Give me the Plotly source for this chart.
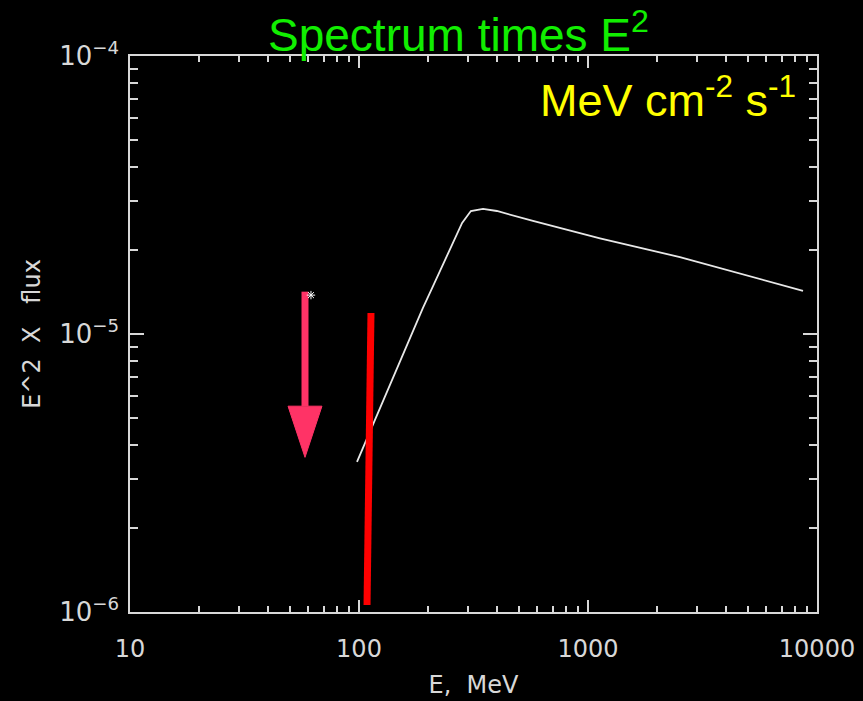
import numpy as np
import plotly.graph_objects as go

# ---- data ----
energy_mev = [98, 148, 190, 210, 250, 282, 308, 348, 400, 575, 1128, 2521, 8689]
e2_flux = [3.47e-6, 7.74e-6, 1.24e-5, 1.48e-5, 2.04e-5, 2.51e-5, 2.77e-5, 2.82e-5,
           2.77e-5, 2.55e-5, 2.21e-5, 1.89e-5, 1.43e-5]

red_bar_E = [112.8, 108.4]
red_bar_F = [1.19e-5, 1.06e-6]

upper_limit_E = [61.7]
upper_limit_F = [1.38e-5]

arrow_E = 58.1
arrow_top = 1.42e-5
arrow_head_base = 5.5e-6
arrow_tip = 3.6e-6
arrow_half_width_dec = 0.074

x_tickvals = [10, 100, 1000, 10000]
x_ticktext = ["10", "100", "1000", "10000"]
y_tickvals = [1e-6, 1e-5, 1e-4]
y_ticktext = ["10<sup>−6</sup>", "10<sup>−5</sup>", "10<sup>−4</sup>"]
x_minor = [m * 10 ** d for d in (1, 2, 3) for m in range(2, 10)]
y_minor = [m * 10.0 ** d for d in (-6, -5) for m in range(2, 10)]

axis_col = "#d8d8d8"
font_fam = "DejaVu Sans"

fig = go.Figure()

fig.add_trace(go.Scatter(x=energy_mev, y=e2_flux, mode="lines",
                         line=dict(color="#e8e8e8", width=1.8), showlegend=False))

fig.add_trace(go.Scatter(x=red_bar_E, y=red_bar_F, mode="lines",
                         line=dict(color="#ff0000", width=7), showlegend=False))

# arrow shaft
fig.add_trace(go.Scatter(x=[arrow_E, arrow_E], y=[arrow_top, arrow_head_base], mode="lines",
                         line=dict(color="#ff3366", width=7), showlegend=False))
# arrow head
lx = 10 ** (np.log10(arrow_E) - arrow_half_width_dec)
rx = 10 ** (np.log10(arrow_E) + arrow_half_width_dec)
fig.add_trace(go.Scatter(x=[lx, rx, arrow_E, lx], y=[arrow_head_base, arrow_head_base, arrow_tip, arrow_head_base],
                         mode="lines", fill="toself", fillcolor="#ff3366",
                         line=dict(color="#ff3366", width=1), showlegend=False))

fig.add_trace(go.Scatter(x=upper_limit_E, y=upper_limit_F, mode="markers",
                         marker=dict(symbol="asterisk-open", size=7, color="#ffffff",
                                     line=dict(color="#ffffff", width=1)),
                         showlegend=False))

fig.update_layout(
    width=863, height=701,
    paper_bgcolor="#000000", plot_bgcolor="#000000",
    margin=dict(l=130, r=46, t=56, b=89, autoexpand=False),
    font=dict(family=font_fam, color=axis_col),
    xaxis=dict(type="log", range=[1, 4], showgrid=False, zeroline=False, automargin=False,
               showline=True, linecolor=axis_col, linewidth=1.5, mirror="allticks",
               ticks="inside", ticklen=12, tickwidth=1.5, tickcolor=axis_col,
               tickvals=x_tickvals, ticktext=x_ticktext, ticklabelstandoff=14,
               tickfont=dict(size=24, color=axis_col, family=font_fam),
               minor=dict(tickvals=x_minor, ticks="inside", ticklen=6, tickwidth=1.5,
                          tickcolor=axis_col, showgrid=False),
               title=dict(text="E,  MeV", font=dict(size=24, color=axis_col, family=font_fam),
                          standoff=15)),
    yaxis=dict(type="log", range=[-6, -4], showgrid=False, zeroline=False, automargin=False,
               showline=True, linecolor=axis_col, linewidth=1.5, mirror="allticks",
               ticks="inside", ticklen=14, tickwidth=1.5, tickcolor=axis_col,
               tickvals=y_tickvals, ticktext=y_ticktext, ticklabelstandoff=4,
               tickfont=dict(size=26, color=axis_col, family=font_fam),
               minor=dict(tickvals=y_minor, ticks="inside", ticklen=8, tickwidth=1.5,
                          tickcolor=axis_col, showgrid=False),
               title=dict(text="E^2  X   flux", font=dict(size=24, color=axis_col, family=font_fam),
                          standoff=12)),
    annotations=[
        dict(text="Spectrum times E<sup>2</sup>", xref="paper", yref="paper",
             x=(458 - 130) / 687, y=1 + (56 - 32) / 556, xanchor="center", yanchor="middle",
             showarrow=False, font=dict(size=46, color="#11ee00", family="Liberation Sans")),
        dict(text="MeV cm<sup>-2</sup> s<sup>-1</sup>", xref="paper", yref="paper",
             x=(668 - 130) / 687, y=(612 - 97) / 556, xanchor="center", yanchor="middle",
             showarrow=False, font=dict(size=45, color="#ffff00", family="Liberation Sans")),
    ],
)

fig.write_html("out.html")
